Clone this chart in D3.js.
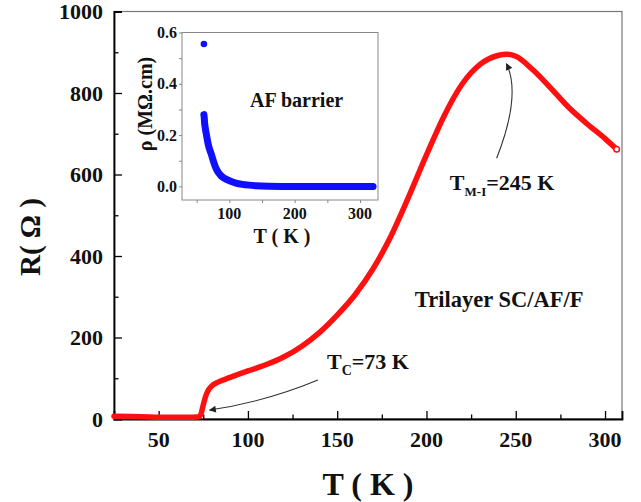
<!DOCTYPE html>
<html>
<head>
<meta charset="utf-8">
<script src="https://cdn.jsdelivr.net/npm/d3@7"></script>
<style>
  body { margin: 0; background: #fff; }
  svg text { font-family: "Liberation Serif", "DejaVu Serif", serif; font-weight: bold; fill: #111; }
</style>
</head>
<body>
<div id="chart"></div>
<script>
// main curve: R(T) of the trilayer
var tempMain = [25, 35, 45, 55, 65, 72, 73.5, 75, 76.5, 78, 80, 83, 90, 100, 110, 120, 130, 140, 150, 160, 170, 180, 190, 200, 210, 220, 230, 240, 245, 250, 260, 270, 280, 290, 300, 306.5];
var resMain  = [7, 6, 5, 4, 4, 5, 10, 35, 58, 72, 82, 90, 102, 118, 133, 152, 178, 212, 255, 305, 368, 448, 545, 648, 745, 822, 870, 892, 895, 890, 855, 810, 763, 724, 688, 662];

// inset: AF barrier resistivity
var tempInset = [61, 61.5, 62, 63, 65, 68, 72, 76, 80, 86, 92, 100, 110, 120, 130, 140, 160, 200, 250, 300, 320];
var rhoInset  = [0.28, 0.27, 0.25, 0.23, 0.20, 0.16, 0.128, 0.095, 0.068, 0.045, 0.032, 0.022, 0.013, 0.008, 0.005, 0.003, 0.001, 0, 0, 0, 0];
var insetOutlier = [61, 0.555];

var xTicksMain = [50, 100, 150, 200, 250, 300];
var yTicksMain = [0, 200, 400, 600, 800, 1000];
var xTicksInset = [100, 200, 300];
var yTicksInset = [0.0, 0.2, 0.4, 0.6];

var width = 641, height = 502;
var svg = d3.select("#chart").append("svg").attr("width", width).attr("height", height);

// ---- main plot ----
var x = d3.scaleLinear().domain([25, 309.5]).range([114, 622]);
var y = d3.scaleLinear().domain([0, 1000]).range([419, 11.5]);

// frame (top / right)
svg.append("rect")
  .attr("x", x.range()[0]).attr("y", y.range()[1])
  .attr("width", x.range()[1] - x.range()[0])
  .attr("height", y.range()[0] - y.range()[1])
  .attr("fill", "none").attr("stroke", "#777").attr("stroke-width", 1.2);

var gx = svg.append("g").attr("transform", "translate(0," + y(0) + ")");
gx.call(d3.axisBottom(x).tickValues(d3.range(50, 301, 25)).tickSize(-8).tickFormat(""));
gx.selectAll(".tick line").attr("y2", function(d) { return d % 50 === 0 ? -8 : -4.5; }).attr("stroke-width", 1.3);
gx.select(".domain").attr("stroke-width", 1.8);
gx.selectAll(".tickLabel").data(xTicksMain).enter().append("text")
  .attr("x", function(d) { return x(d); }).attr("y", 28)
  .attr("text-anchor", "middle").attr("font-size", "22px").text(function(d) { return d; });

var gy = svg.append("g").attr("transform", "translate(" + x.range()[0] + ",0)");
gy.call(d3.axisLeft(y).tickValues(d3.range(0, 1001, 100)).tickSize(-8).tickFormat(""));
gy.selectAll(".tick line").attr("x2", function(d) { return d % 200 === 0 ? 8 : 4.5; }).attr("stroke-width", 1.3);
gy.select(".domain").attr("stroke-width", 1.8);
gy.selectAll(".tickLabel").data(yTicksMain).enter().append("text")
  .attr("x", -11).attr("y", function(d) { return y(d); }).attr("dy", "0.35em")
  .attr("text-anchor", "end").attr("font-size", "22px").text(function(d) { return d; });

svg.append("text")
  .attr("x", (x.range()[0] + x.range()[1]) / 2).attr("y", 495)
  .attr("text-anchor", "middle").attr("font-size", "32px")
  .text("T ( K )");

svg.append("text")
  .attr("transform", "translate(40," + 237 + ") rotate(-90)")
  .attr("text-anchor", "middle").attr("font-size", "29px")
  .text("R( \u03A9 )");

var mainData = d3.zip(tempMain, resMain);
var line = d3.line().x(function(d) { return x(d[0]); }).y(function(d) { return y(d[1]); }).curve(d3.curveMonotoneX);
svg.append("path").datum(mainData)
  .attr("d", line).attr("fill", "none")
  .attr("stroke", "#ff1010").attr("stroke-width", 5.5)
  .attr("stroke-linejoin", "round").attr("stroke-linecap", "round");
var last = mainData[mainData.length - 1];
svg.append("circle").attr("cx", x(last[0])).attr("cy", y(last[1])).attr("r", 2.8)
  .attr("fill", "#fff").attr("stroke", "#ff1010").attr("stroke-width", 1.5);

// arrows
var defs = svg.append("defs");
defs.append("marker").attr("id", "head")
  .attr("viewBox", "0 0 10 10").attr("refX", 9).attr("refY", 5)
  .attr("markerWidth", 11).attr("markerHeight", 7).attr("markerUnits", "userSpaceOnUse")
  .attr("orient", "auto")
  .append("path").attr("d", "M0,0 L10,5 L0,10 Z").attr("fill", "#222");

function arrow(a, c, b) {
  svg.append("path")
    .attr("d", "M" + x(a[0]) + "," + y(a[1]) + " Q" + x(c[0]) + "," + y(c[1]) + " " + x(b[0]) + "," + y(b[1]))
    .attr("fill", "none").attr("stroke", "#333").attr("stroke-width", 1.1)
    .attr("marker-end", "url(#head)");
}
arrow([139.2, 95.7], [109.5, 41.7], [78.5, 22]);
arrow([239.3, 640], [253.2, 795], [244.8, 872]);

// annotations
var tc = svg.append("text").attr("x", x(144.3)).attr("y", y(122.7)).attr("font-size", "22px");
tc.append("tspan").text("T");
tc.append("tspan").attr("font-size", "14px").attr("dy", 6).text("C");
tc.append("tspan").attr("dy", -6).text("=73 K");

var tm = svg.append("text").attr("x", x(213.1)).attr("y", y(562)).attr("font-size", "22px");
tm.append("tspan").text("T");
tm.append("tspan").attr("font-size", "13px").attr("dy", 6).text("M-I");
tm.append("tspan").attr("dy", -6).text("=245 K");

svg.append("text").attr("x", x(193.5)).attr("y", y(275)).attr("font-size", "22.5px")
  .text("Trilayer SC/AF/F");

// ---- inset ----
var xi = d3.scaleLinear().domain([27.5, 327.5]).range([182, 378]);
var yi = d3.scaleLinear().domain([-0.053, 0.6]).range([200, 32.5]);

svg.append("rect")
  .attr("x", xi.range()[0]).attr("y", yi.range()[1])
  .attr("width", xi.range()[1] - xi.range()[0])
  .attr("height", yi.range()[0] - yi.range()[1])
  .attr("fill", "#fff").attr("stroke", "#888").attr("stroke-width", 1);

var gxi = svg.append("g").attr("transform", "translate(0," + yi.range()[0] + ")");
gxi.call(d3.axisBottom(xi).tickValues(d3.range(50, 301, 50)).tickSize(3).tickFormat(""));
gxi.select(".domain").remove();
gxi.selectAll(".tick line").attr("stroke", "#888");
gxi.selectAll(".tickLabel").data(xTicksInset).enter().append("text")
  .attr("x", function(d) { return xi(d); }).attr("y", 18.5)
  .attr("text-anchor", "middle").attr("font-size", "16px").text(function(d) { return d; });

var gyi = svg.append("g").attr("transform", "translate(" + xi.range()[0] + ",0)");
gyi.call(d3.axisLeft(yi).tickValues(d3.range(0, 0.61, 0.1)).tickSize(3).tickFormat(""));
gyi.select(".domain").remove();
gyi.selectAll(".tick line").attr("stroke", "#888");
gyi.selectAll(".tickLabel").data(yTicksInset).enter().append("text")
  .attr("x", -5).attr("y", function(d) { return yi(d); }).attr("dy", "0.35em")
  .attr("text-anchor", "end").attr("font-size", "16px").text(function(d) { return d.toFixed(1); });

svg.append("text")
  .attr("x", (xi.range()[0] + xi.range()[1]) / 2 + 2).attr("y", 243)
  .attr("text-anchor", "middle").attr("font-size", "20px").text("T ( K )");

svg.append("text")
  .attr("transform", "translate(152,104) rotate(-90)")
  .attr("text-anchor", "middle").attr("font-size", "20px")
  .text("\u03C1 (M\u03A9.cm)");

var insetData = d3.zip(tempInset, rhoInset);
var linei = d3.line().x(function(d) { return xi(d[0]); }).y(function(d) { return yi(d[1]); }).curve(d3.curveMonotoneX);
svg.append("path").datum(insetData)
  .attr("d", linei).attr("fill", "none")
  .attr("stroke", "#1010ff").attr("stroke-width", 7)
  .attr("stroke-linejoin", "round").attr("stroke-linecap", "round");
svg.append("circle").attr("cx", xi(insetOutlier[0])).attr("cy", yi(insetOutlier[1])).attr("r", 3.3)
  .attr("fill", "#1010ff");

svg.append("text").attr("x", xi(131.7)).attr("y", yi(0.309)).attr("font-size", "20px")
  .text("AF barrier");
</script>
</body>
</html>
